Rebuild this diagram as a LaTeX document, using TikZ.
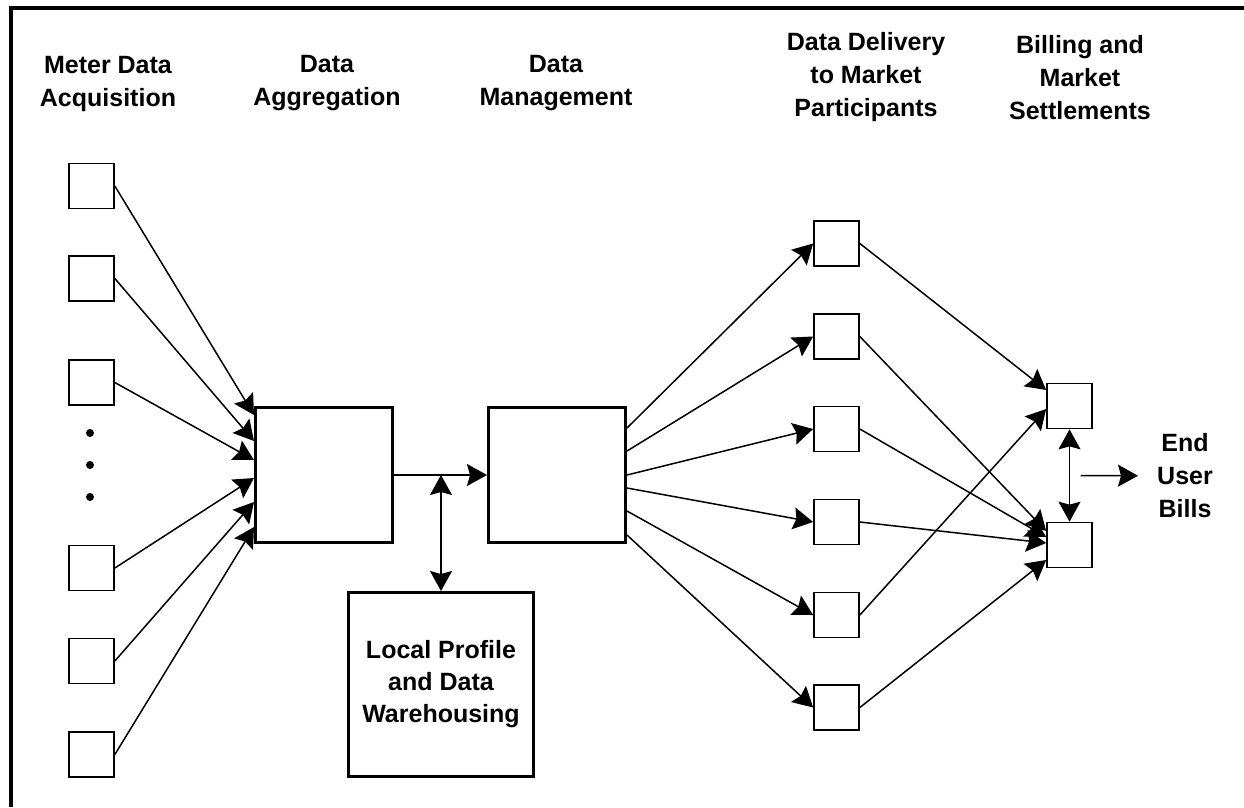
\documentclass[tikz,border=0pt]{standalone}
\usepackage{fontspec}
\setmainfont{Liberation Sans}
\usetikzlibrary{arrows.meta,calc}

\begin{document}
\begin{tikzpicture}[x=1pt, y=-1pt, >={Stealth[length=20pt,width=22pt,inset=3pt]},
    font=\fontsize{25}{32}\selectfont\bfseries,
    mbox/.style={draw, line width=1.7pt, minimum width=45pt, minimum height=45pt, inner sep=0pt},
    bigbox/.style={draw, line width=3pt, inner sep=0pt, align=center},
    hdr/.style={align=center, inner sep=0pt, font=\fontsize{25}{33}\selectfont\bfseries},
    link/.style={->, line width=1.5pt}]

    % 1. Page size and the frame (only top and left edges show)
    \useasboundingbox (0,0) rectangle (1244,807);
    \draw[line width=4pt] (11,807) -- (11,8) -- (1244,8);
    \def\Mx{91.5} % column of meter boxes
    \def\Dx{836.5} % column of delivery boxes

    % 2. Column headings
    \node[hdr] (hmeter) at (108,83.5) {Meter Data\\Acquisition};
    \node[hdr] (hagg) at (327,83.5) {Data\\Aggregation};
    \node[hdr] (hmgmt) at (556,83.5) {Data\\Management};
    \node[hdr] (hdeliv) at (866,77.5) {Data Delivery\\to Market\\Participants};
    \node[hdr] (hbill) at (1080,77.5) {Billing and\\Market\\Settlements};

    % 3. Meter data acquisition boxes
    \node[mbox] (m1) at (\Mx,186) {};
    \node[mbox] (m2) at (\Mx,278.5) {};
    \node[mbox] (m3) at (\Mx,382.5) {};
    \node[mbox] (m4) at (\Mx,568) {};
    \node[mbox] (m5) at (\Mx,661) {};
    \node[mbox] (m6) at (\Mx,754.5) {};
    \fill (90,433) circle (4pt);
    \fill (90,465) circle (4pt);
    \fill (90,497) circle (4pt);

    % 4. Aggregation, management and warehouse
    \node[bigbox, minimum width=137pt, minimum height=135pt] (agg) at (324,475) {};
    \node[bigbox, minimum width=137pt, minimum height=135pt] (mgmt) at (557,475) {};
    \node[bigbox, minimum width=185pt, minimum height=184pt] (whouse) at (441,684.5) {Local Profile\\and Data\\Warehousing};

    % 5. Delivery and billing boxes
    \node[mbox] (d1) at (\Dx,243.5) {};
    \node[mbox] (d2) at (\Dx,336.5) {};
    \node[mbox] (d3) at (\Dx,429) {};
    \node[mbox] (d4) at (\Dx,522) {};
    \node[mbox] (d5) at (\Dx,615) {};
    \node[mbox] (d6) at (\Dx,707.5) {};
    \node[mbox] (bill1) at (1069.5,406) {};
    \node[mbox] (bill2) at (1069.5,545) {};
    \node[hdr, inner xsep=19pt] (bills) at (1185,476) {End\\User\\Bills};

    % 6. Meters into aggregation
    \draw[link] (m1.east) -- ($(agg.west)+(0,-60)$);
    \draw[link] (m2.east) -- ($(agg.west)+(0,-34)$);
    \draw[link] (m3.east) -- ($(agg.west)+(0,-15)$);
    \draw[link] (m4.east) -- ($(agg.west)+(0,3)$);
    \draw[link] (m5.east) -- ($(agg.west)+(0,27)$);
    \draw[link] (m6.east) -- ($(agg.west)+(0,52)$);

    % 7. Aggregation to management, with warehouse tap
    \draw[link] (agg) -- (mgmt);
    \coordinate (tap) at (whouse.north |- agg.east);
    \draw[<->, line width=1.5pt] (tap) -- (whouse);

    % 8. Management out to delivery
    \draw[link] ($(mgmt.east)+(0,-47)$) -- (d1.west);
    \draw[link] ($(mgmt.east)+(0,-24)$) -- (d2.west);
    \draw[link] (mgmt.east) -- (d3.west);
    \draw[link] ($(mgmt.east)+(0,13)$) -- (d4.west);
    \draw[link] ($(mgmt.east)+(0,36)$) -- (d5.west);
    \draw[link] ($(mgmt.east)+(0,60)$) -- (d6.west);

    % 9. Delivery into billing
    \draw[link] (d1.east) -- ($(bill1.west)+(0,-16)$);
    \draw[link] (d5.east) -- ($(bill1.west)+(0,3)$);
    \draw[link] (d2.east) -- ($(bill2.west)+(0,-14)$);
    \draw[link] (d3.east) -- ($(bill2.west)+(0,-8)$);
    \draw[link] (d4.east) -- ($(bill2.west)+(0,-2)$);
    \draw[link] (d6.east) -- ($(bill2.west)+(0,15)$);

    % 10. Settlements and end user bills
    \draw[<->, line width=1.5pt] (bill1) -- (bill2);
    \coordinate (bmid) at ($(bill1)!0.5!(bill2)+(11,0)$);
    \draw[link] (bmid) -- (bills);

\end{tikzpicture}
\end{document}
